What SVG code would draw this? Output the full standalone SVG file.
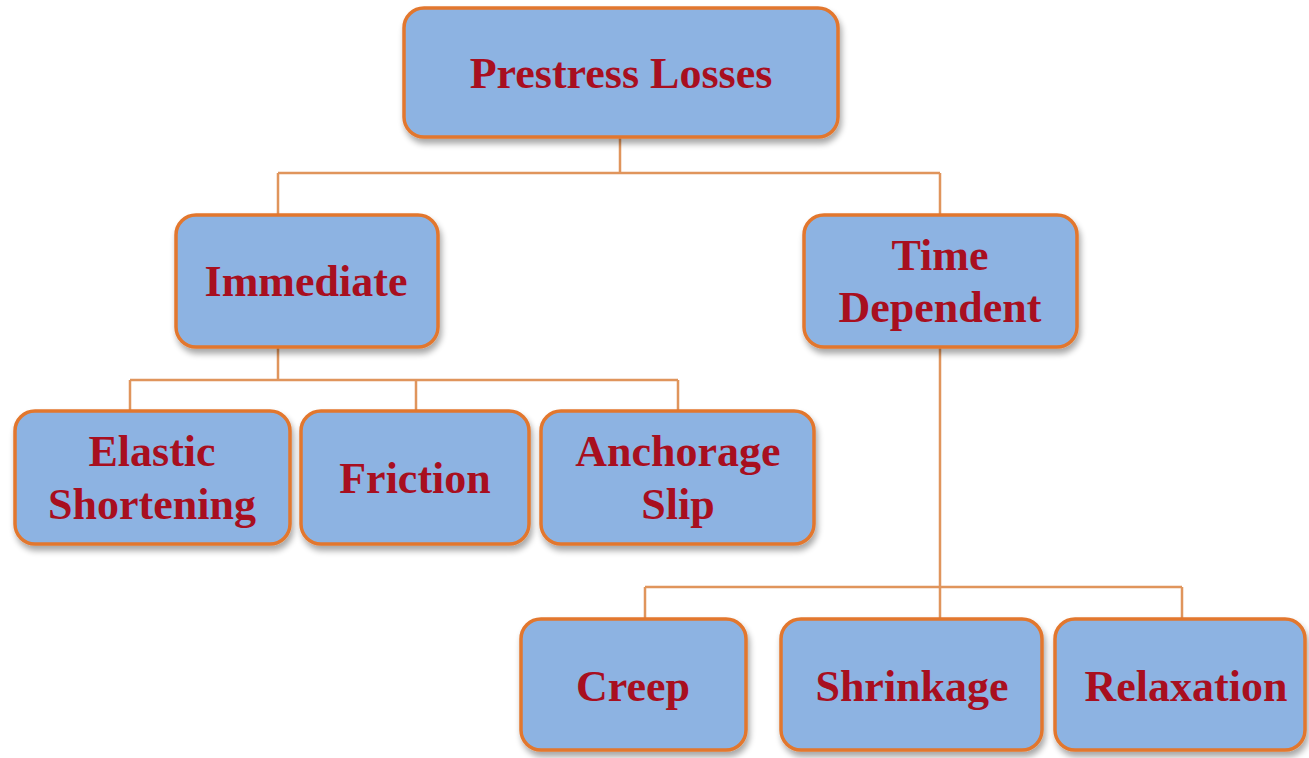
<svg xmlns="http://www.w3.org/2000/svg" width="1309" height="758" viewBox="0 0 1309 758">
<defs>
<filter id="sh" x="-10%" y="-10%" width="120%" height="130%">
<feGaussianBlur in="SourceAlpha" stdDeviation="3"/>
<feOffset dx="2" dy="5" result="b"/>
<feComponentTransfer><feFuncA type="linear" slope="0.35"/></feComponentTransfer>
<feMerge><feMergeNode/><feMergeNode in="SourceGraphic"/></feMerge>
</filter>
<style>
.box{fill:#8db3e2;stroke:#e2772e;stroke-width:3.5;filter:url(#sh)}
.t{font-family:"Liberation Serif","Times New Roman",serif;font-weight:bold;font-size:44px;fill:#a80f1f;text-anchor:middle}
.c{fill:none;stroke:#e0955c;stroke-width:2.5}
</style>
</defs>
<rect width="1309" height="758" fill="#ffffff"/>
<g id="connectors">
<path class="c" d="M620 138 V173 M278 173 H940 M278 173 V214 M940 173 V214"/>
<path class="c" d="M278 348 V380 M130 380 H678 M130 380 V411 M416 380 V411 M678 380 V411"/>
<path class="c" d="M940 348 V619 M645 587 H1182 M645 587 V619 M1182 587 V619"/>
</g>
<g id="prestress-losses"><rect class="box" x="404" y="8" width="434" height="129" rx="20"/><text class="t" x="621" y="88">Prestress Losses</text></g>
<g id="immediate"><rect class="box" x="176" y="215" width="262" height="132" rx="20"/><text class="t" x="306" y="296">Immediate</text></g>
<g id="time-dependent"><rect class="box" x="804" y="215" width="273" height="132" rx="20"/><text class="t" x="940" y="270">Time</text><text class="t" x="940" y="322">Dependent</text></g>
<g id="elastic-shortening"><rect class="box" x="15" y="411" width="275" height="133" rx="20"/><text class="t" x="152" y="466">Elastic</text><text class="t" x="152" y="519">Shortening</text></g>
<g id="friction"><rect class="box" x="301" y="411" width="228" height="133" rx="20"/><text class="t" x="415" y="493">Friction</text></g>
<g id="anchorage-slip"><rect class="box" x="541" y="411" width="273" height="133" rx="20"/><text class="t" x="678" y="466">Anchorage</text><text class="t" x="678" y="519">Slip</text></g>
<g id="creep"><rect class="box" x="521" y="619" width="225" height="131" rx="20"/><text class="t" x="633" y="701">Creep</text></g>
<g id="shrinkage"><rect class="box" x="781" y="619" width="261" height="131" rx="20"/><text class="t" x="912" y="701">Shrinkage</text></g>
<g id="relaxation"><rect class="box" x="1055" y="619" width="250" height="131" rx="20"/><text class="t" x="1186" y="701">Relaxation</text></g>
</svg>
